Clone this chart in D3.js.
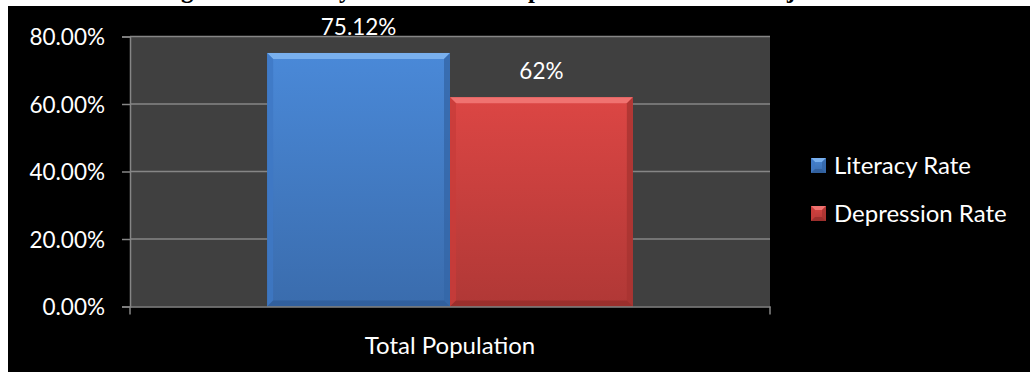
<!DOCTYPE html>
<html>
<head>
<meta charset="utf-8">
<script src="https://cdn.jsdelivr.net/npm/d3@7"></script>
<style>
  html, body { margin: 0; padding: 0; background: #ffffff; }
  svg { display: block; }
</style>
</head>
<body>
<svg id="chart" width="1030" height="372"></svg>
<script>
// ---- data ----
const titleText = "Figure 1: Literacy Rate and the Depression Rate in the Punjab";
const categories = ["Total Population"];
const seriesNames = ["Literacy Rate", "Depression Rate"];
const literacyRate = [75.12];
const depressionRate = [62];
const literacyLabels = ["75.12%"];
const depressionLabels = ["62%"];
const yTickValues = [0, 20, 40, 60, 80];
const yTickLabels = ["0.00%", "20.00%", "40.00%", "60.00%", "80.00%"];

const seriesValues = [literacyRate, depressionRate];
const seriesLabels = [literacyLabels, depressionLabels];

// ---- styles ----
const palette = {
  "Literacy Rate":   { top: "#4a89d8", bottom: "#3a6cad", bevelTop: "#79b0ee", bevelLeft: "#3e78c4", bevelRight: "#3566a8", bevelBottom: "#2f5c98" },
  "Depression Rate": { top: "#dc4644", bottom: "#b03836", bevelTop: "#f07270", bevelLeft: "#c83c3a", bevelRight: "#a83331", bevelBottom: "#962d2b" }
};
const font = "Lato, 'Open Sans', sans-serif";
const smallSize = 22.5;
const largeSize = 24;

const svg = d3.select("#chart");
const W = 1030, H = 372;

// white page + title (only the descenders show above the black chart)
svg.append("rect").attr("width", W).attr("height", H).attr("fill", "#ffffff");
const title = svg.append("text")
  .attr("x", 160).attr("y", -2)
  .attr("font-family", "'Liberation Serif', 'Times New Roman', serif")
  .attr("font-weight", "bold")
  .attr("font-size", 24.8)
  .attr("fill", "#000")
  .text(titleText);
// align the title glyphs
(function alignTitle() {
  const node = title.node();
  const gi = titleText.indexOf("g");
  const ji = titleText.lastIndexOf("j");
  const d = node.getStartPositionOfChar(ji).x - node.getStartPositionOfChar(gi).x;
  const fs = 24.8 * 606 / d;
  title.attr("font-size", fs);
  const gx = node.getStartPositionOfChar(gi).x;
  title.attr("x", 160 + (181 - gx));
})();

// black chart area
svg.append("rect").attr("x", 8).attr("y", 6).attr("width", W - 8).attr("height", H - 6).attr("fill", "#000000");

// ---- scales ----
const plot = { left: 130, right: 770, top: 36.5, bottom: 306.5 };
const y = d3.scaleLinear().domain([0, 80]).range([plot.bottom, plot.top]);
const x0 = d3.scaleBand().domain(categories).range([plot.left, plot.right]).paddingInner(0).paddingOuter(0);
const x1 = d3.scaleBand().domain(seriesNames).range([0, x0.bandwidth()]).paddingInner(0).paddingOuter(0.75);

// plot area
svg.append("rect")
  .attr("x", plot.left).attr("y", plot.top)
  .attr("width", plot.right - plot.left).attr("height", plot.bottom - plot.top)
  .attr("fill", "#404040");

// gridlines
svg.append("g").selectAll("line").data(yTickValues.filter(v => v > 0)).join("line")
  .attr("x1", plot.left).attr("x2", plot.right)
  .attr("y1", d => y(d)).attr("y2", d => y(d))
  .attr("stroke", "#868686").attr("stroke-width", 1.5);

// defs for gradients
const defs = svg.append("defs");
seriesNames.forEach((s, i) => {
  const g = defs.append("linearGradient").attr("id", "grad" + i)
    .attr("x1", 0).attr("y1", 0).attr("x2", 0).attr("y2", 1);
  g.append("stop").attr("offset", "0%").attr("stop-color", palette[s].top);
  g.append("stop").attr("offset", "100%").attr("stop-color", palette[s].bottom);
});

// bevelled bar drawing
function bevelBar(gSel, x, yTop, w, yBot, s, gi, b) {
  const c = palette[s];
  const x2 = x + w;
  gSel.append("rect").attr("x", x).attr("y", yTop).attr("width", w).attr("height", yBot - yTop)
    .attr("fill", `url(#grad${gi})`);
  const poly = (pts, fill) => gSel.append("polygon").attr("points", pts.map(p => p.join(",")).join(" ")).attr("fill", fill);
  poly([[x, yTop], [x2, yTop], [x2 - b, yTop + b], [x + b, yTop + b]], c.bevelTop);
  poly([[x, yTop], [x + b, yTop + b], [x + b, yBot - b], [x, yBot]], c.bevelLeft).attr("opacity", 0.8);
  poly([[x2, yTop], [x2 - b, yTop + b], [x2 - b, yBot - b], [x2, yBot]], c.bevelRight).attr("opacity", 0.8);
  poly([[x, yBot], [x + b, yBot - b], [x2 - b, yBot - b], [x2, yBot]], c.bevelBottom).attr("opacity", 0.8);
}

const barsG = svg.append("g");
categories.forEach((cat, ci) => {
  seriesNames.forEach((s, si) => {
    const v = seriesValues[si][ci];
    const bx = x0(cat) + x1(s);
    bevelBar(barsG.append("g"), bx, y(v), x1.bandwidth(), y(0), s, si, 6);
    svg.append("text")
      .attr("x", bx + x1.bandwidth() / 2)
      .attr("y", y(v) - 18)
      .attr("text-anchor", "middle")
      .attr("font-family", font).attr("font-size", smallSize)
      .attr("fill", "#ffffff")
      .text(seriesLabels[si][ci]);
  });
});

// y axis
const yAxis = d3.axisLeft(y).tickValues(yTickValues).tickSize(8).tickPadding(17)
  .tickFormat((d, i) => yTickLabels[i]);
const ya = svg.append("g").attr("transform", `translate(${plot.left},0)`).call(yAxis);
ya.select(".domain").attr("stroke", "#868686").attr("stroke-width", 1.5);
ya.selectAll(".tick line").attr("stroke", "#868686").attr("stroke-width", 1.5);
ya.selectAll(".tick text").attr("fill", "#ffffff").attr("font-family", font).attr("font-size", smallSize).attr("dy", "0.36em");

// x axis
const xAxis = d3.axisBottom(x0).tickSize(0).tickPadding(30);
const xa = svg.append("g").attr("transform", `translate(0,${plot.bottom})`).call(xAxis);
xa.select(".domain").attr("stroke", "#868686").attr("stroke-width", 1.5);
xa.selectAll(".tick text").attr("fill", "#ffffff").attr("font-family", font).attr("font-size", largeSize).attr("dy", "0.71em");
// boundary ticks
xa.append("g").selectAll("line").data(x0.range()).join("line")
  .attr("x1", d => d).attr("x2", d => d).attr("y1", 0).attr("y2", 8)
  .attr("stroke", "#868686").attr("stroke-width", 1.5);

// legend
const legend = svg.append("g").attr("transform", "translate(811,158)");
seriesNames.forEach((s, i) => {
  const lg = legend.append("g").attr("transform", `translate(0,${i * 48})`);
  bevelBar(lg, 0, 0, 15, 15, s, i, 4);
  lg.append("text").attr("x", 23).attr("y", 16)
    .attr("font-family", font).attr("font-size", largeSize)
    .attr("fill", "#ffffff").text(s);
});
</script>
</body>
</html>
